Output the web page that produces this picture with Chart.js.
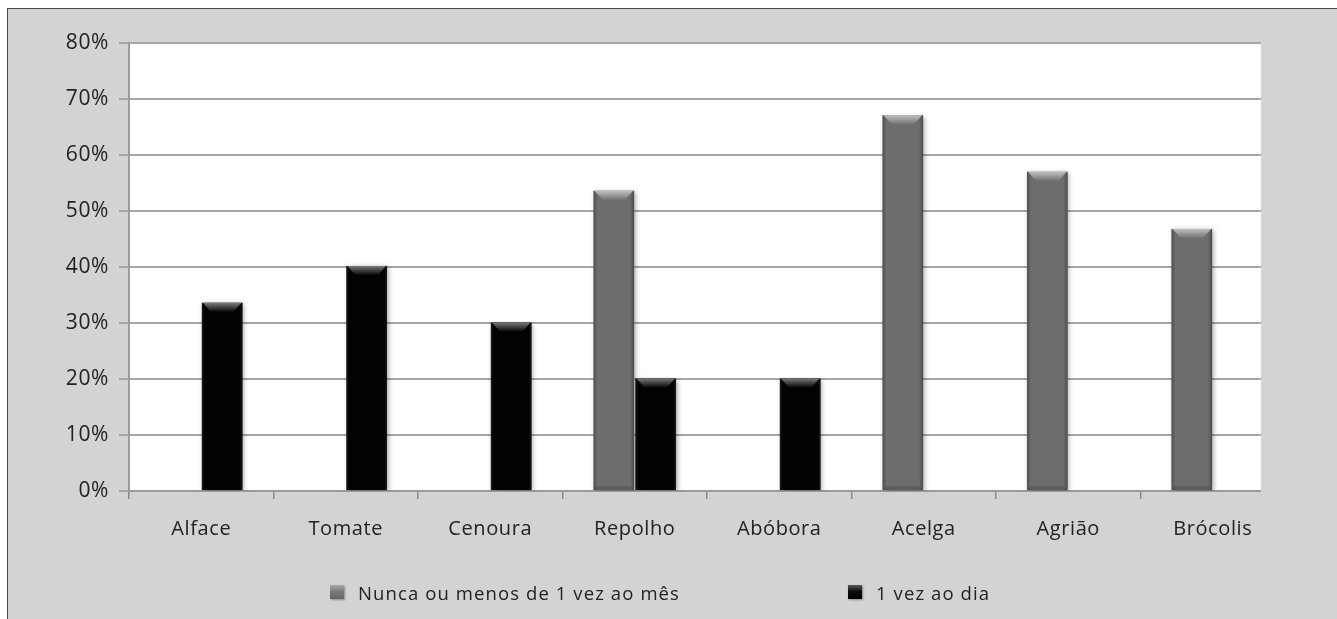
<!DOCTYPE html>
<html>
<head>
<meta charset="utf-8">
<script src="https://cdn.jsdelivr.net/npm/chart.js@4.4.1/dist/chart.umd.min.js"></script>
<style>
  html, body { margin: 0; padding: 0; background: #fff; width: 1337px; height: 619px; overflow: hidden; }
  #frame { position: absolute; left: 7px; top: 8px; width: 1345px; height: 625px; background: #d3d3d3;
           border-left: 1.5px solid #4a4a4a; border-top: 1.5px solid #4a4a4a; }
  #chart { position: absolute; left: 0; top: 0; }
  .legend-item { position: absolute; top: 581px; height: 22px; display: flex; align-items: center;
                 font-family: 'Open Sans', sans-serif; font-size: 18.5px; letter-spacing: 1.1px; color: #222; white-space: nowrap; }
  .legend-box { width: 14px; height: 14px; margin-right: 14px; box-shadow: 1px 1px 2px rgba(0,0,0,0.35); }
  .box-gray { background: linear-gradient(180deg, #a9a9a9 0%, #7a7a7a 45%, #656565 100%); }
  .box-black { background: linear-gradient(180deg, #5a5a5a 0%, #0c0c0c 45%, #000 100%); }
</style>
</head>
<body>
<div id="frame"></div>
<canvas id="chart" width="1337" height="619"></canvas>
<div class="legend-item" style="left:330px"><span class="legend-box box-gray"></span><span id="lg0"></span></div>
<div class="legend-item" style="left:848px"><span class="legend-box box-black"></span><span id="lg1"></span></div>
<script>
// Vegetables surveyed
const categories = ['Alface', 'Tomate', 'Cenoura', 'Repolho', 'Abóbora', 'Acelga', 'Agrião', 'Brócolis'];
// Share of respondents (%) per consumption frequency
const nuncaValues  = [null, null, null, 53.6, null, 67.1, 57.0, 46.8];
const diarioValues = [33.6, 40.2, 30.1, 20.1, 20.1, null, null, null];
const seriesNames = ['Nunca ou menos de 1 vez ao mês', '1 vez ao dia'];
// Y axis ticks (%)
const yTickValues = [0, 10, 20, 30, 40, 50, 60, 70, 80];

const FRAME_BG = '#d3d3d3';
const FONT = "'Open Sans', sans-serif";
const TEXT = '#222';

document.getElementById('lg0').textContent = seriesNames[0];
document.getElementById('lg1').textContent = seriesNames[1];

// Slightly tracked text for the axis labels
const tracking = {
  id: 'tracking',
  beforeLayout(c) { c.ctx.letterSpacing = '0.6px'; },
  beforeDraw(c) { c.ctx.letterSpacing = '0.6px'; }
};

// Right edge of the plotting area sits one third into the last category slot
function plotRightEdge(c) {
  const xs = c.scales.x;
  const slot = xs.width / categories.length;
  return xs.getPixelForValue(categories.length - 1) + slot / 3;
}

const plotBackground = {
  id: 'plotBackground',
  beforeDraw(c) {
    const { ctx, chartArea: a } = c;
    ctx.save();
    ctx.fillStyle = '#ffffff';
    ctx.fillRect(a.left, a.top, plotRightEdge(c) - a.left, a.bottom - a.top);
    ctx.restore();
  },
  afterDraw(c) {
    const { ctx, chartArea: a } = c;
    const r = plotRightEdge(c);
    ctx.save();
    ctx.fillStyle = FRAME_BG;
    ctx.fillRect(r, a.top - 4, c.width - r, a.bottom - a.top + 16);
    ctx.restore();
  }
};

// Soft drop shadow under the bars plus bevelled tops and shaded sides
const bevel = {
  id: 'bevel',
  beforeDatasetsDraw(c) {
    const ctx = c.ctx;
    ctx.save();
    ctx.shadowColor = 'rgba(0,0,0,0.35)';
    ctx.shadowBlur = 5;
    ctx.shadowOffsetX = 1.5;
    ctx.shadowOffsetY = 1.5;
  },
  afterDatasetsDraw(c) {
    const ctx = c.ctx;
    ctx.restore();
    ctx.save();
    c.data.datasets.forEach((ds, di) => {
      const meta = c.getDatasetMeta(di);
      const dark = di === 1;
      meta.data.forEach((el, i) => {
        if (ds.data[i] === null) return;
        const { x, y, base, width } = el.getProps(['x', 'y', 'base', 'width'], true);
        const l = x - width / 2, r = x + width / 2, t = y, b = base;
        // side shading
        const g = ctx.createLinearGradient(l, 0, r, 0);
        g.addColorStop(0, dark ? 'rgba(50,50,50,0.55)' : 'rgba(0,0,0,0.28)');
        g.addColorStop(0.1, 'rgba(0,0,0,0)');
        g.addColorStop(0.9, 'rgba(0,0,0,0)');
        g.addColorStop(1, dark ? 'rgba(50,50,50,0.55)' : 'rgba(0,0,0,0.32)');
        ctx.fillStyle = g;
        ctx.fillRect(l, t, width, b - t);
        // top bevel
        const bv = 9;
        const gt = ctx.createLinearGradient(0, t, 0, t + bv);
        if (dark) {
          gt.addColorStop(0, '#7a7a7a');
          gt.addColorStop(1, '#080808');
        } else {
          gt.addColorStop(0, '#c0c0c0');
          gt.addColorStop(1, '#727272');
        }
        ctx.fillStyle = gt;
        ctx.beginPath();
        ctx.moveTo(l + 1, t);
        ctx.lineTo(r - 1, t);
        ctx.lineTo(r - bv, t + bv);
        ctx.lineTo(l + bv, t + bv);
        ctx.closePath();
        ctx.fill();
        // bottom bevel (light bars only)
        if (!dark) {
          ctx.fillStyle = 'rgba(0,0,0,0.14)';
          ctx.beginPath();
          ctx.moveTo(l, b);
          ctx.lineTo(r, b);
          ctx.lineTo(r - 4, b - 4);
          ctx.lineTo(l + 4, b - 4);
          ctx.closePath();
          ctx.fill();
        }
      });
    });
    ctx.restore();
  }
};

new Chart(document.getElementById('chart'), {
  type: 'bar',
  data: {
    labels: categories,
    datasets: [
      { label: seriesNames[0], data: nuncaValues, backgroundColor: '#6d6d6d', borderWidth: 0 },
      { label: seriesNames[1], data: diarioValues, backgroundColor: '#020202', borderWidth: 0 }
    ]
  },
  options: {
    responsive: false,
    devicePixelRatio: 1,
    animation: false,
    categoryPercentage: 0.58,
    barPercentage: 0.97,
    layout: { padding: { left: 0, top: 43, right: 52, bottom: 0 } },
    plugins: { legend: { display: false }, tooltip: { enabled: false } },
    scales: {
      x: {
        grid: { offset: true, drawOnChartArea: false, tickLength: 8, color: '#8a8a8a', lineWidth: 1.5 },
        border: { display: true, color: '#9a9a9a', width: 2 },
        ticks: { font: { family: FONT, size: 20 }, color: TEXT, padding: 18, maxRotation: 0 },
        afterFit(s) { s.height = 128; }
      },
      y: {
        min: 0,
        max: 80,
        afterBuildTicks(s) { s.ticks = yTickValues.map(v => ({ value: v })); },
        grid: { color: '#a6a6a6', lineWidth: 2, tickLength: 10 },
        border: { display: true, color: '#9a9a9a', width: 2 },
        ticks: { font: { family: FONT, size: 21 }, color: TEXT, padding: 10, callback: v => v + '%' },
        afterFit(s) { s.width = 129; }
      }
    }
  },
  plugins: [tracking, plotBackground, bevel]
});
</script>
</body>
</html>
